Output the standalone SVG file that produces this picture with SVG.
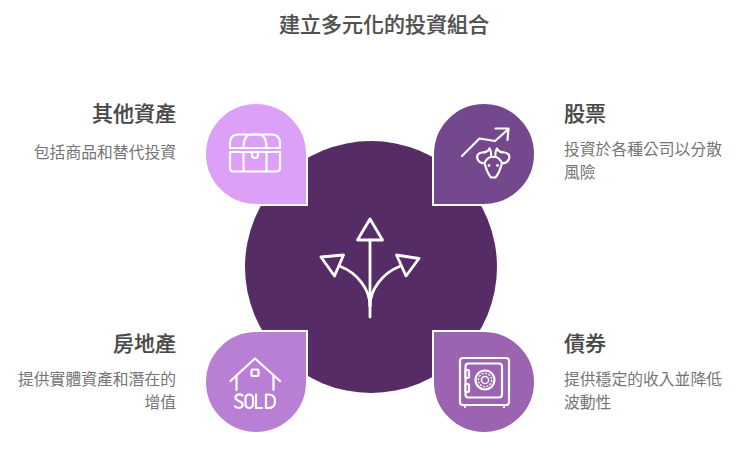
<svg xmlns="http://www.w3.org/2000/svg" width="740" height="452" viewBox="0 0 740 452">
<style>
text{font-family:"Noto Sans CJK TC","Noto Sans",sans-serif}
.t{font-size:21px;font-weight:500;fill:#505050;stroke:#505050;stroke-width:.2}
.h{font-size:21px;font-weight:500;fill:#484848;stroke:#484848;stroke-width:.2}
.d{font-size:15.8px;fill:#757575}
.e{text-anchor:end}
.drop{stroke:#fff;stroke-width:2}
.i{fill:none;stroke:#fff;stroke-width:2.2;stroke-linecap:round;stroke-linejoin:round}
.c{fill:#fff}
</style>
<rect width="740" height="452" fill="#fff"/>
<text class="t" x="279" y="32">建立多元化的投資組合</text>
<g id="center">
<circle cx="371" cy="267" r="126" fill="#552c66"/>
<g class="i" style="stroke-width:2.8">
<path d="M370 219L382.500 240H357.500Z"/>
<path d="M321 257L343.500 255L334.500 276Z"/>
<path d="M396.500 255L419 258.500L406 276Z"/>
<path d="M370 240V317"/>
<path d="M340.500 266.500C357 273 370 289 370 306"/>
<path d="M399.500 266.500C383 273 370 289 370 306"/>
</g>
</g>
<g id="node-other">
<path class="drop" d="M307 205H256A51 51 0 1 1 307 154Z" fill="#dda0f8"/>
<g class="i">
<path d="M230 148V142C230 137 234 134.500 238 134.500H272C276 134.500 280 137 280 142V148Z"/>
<path d="M230 152H280V168C280 170 278.500 171.500 276.500 171.500H233.500C231.500 171.500 230 170 230 168Z"/>
<path d="M243.500 148C243.500 139 246 134.500 252 134.500H258C264 134.500 266.500 139 266.500 148"/>
<path d="M243.500 152V171.500M266.500 152V171.500"/>
<path d="M252 152V155C252 157 253.500 158 255 158C256.500 158 258 157 258 155V152"/>
</g>
<text class="h e" x="176" y="121">其他資產</text>
<text class="d e" x="176" y="158">包括商品和替代投資</text>
</g>
<g id="node-stock">
<path class="drop" d="M433 205V154A51 51 0 1 1 484 205Z" fill="#74488d"/>
<g class="i">
<path d="M462 156L479.500 138.500L495 141L508 129.500"/>
<path d="M495.500 128.500H508.500L507.500 140"/>
<path d="M489.500 148.500C491 151 491.500 154 491 157M489.500 148.500C488 152 485 152.500 482 152.500C478 152.500 476.500 156 477.500 159C479 162 482 163.500 484.500 163C486 169 488 174 491 177.500H495.500C498.500 174 500.500 169 502 163C504.500 163.500 507.500 162 509 159C510 156 508.500 152.500 504.500 152.500C501.500 152.500 498.500 152 497 148.500C495.500 151 495 154 495.500 157"/>
<path d="M484.500 163C486 160 488.500 157.500 491 157H495.500C498 157.500 500.500 160 502 163"/>
</g>
<circle class="c" cx="489" cy="165.500" r="1.400"/>
<circle class="c" cx="497.500" cy="165.500" r="1.400"/>
<text class="h" x="564" y="121">股票</text>
<text class="d" x="564" y="155">投資於各種公司以分散</text>
<text class="d" x="564" y="178">風險</text>
</g>
<g id="node-real-estate">
<path class="drop" d="M307 331V382A51 51 0 1 1 256 331Z" fill="#b97fd5"/>
<g class="i">
<path d="M230.500 381L255 358.500L280 381"/>
<path d="M236.500 376V390M273.500 376V390"/>
<rect x="251.500" y="369.500" width="7" height="6.500" rx="1"/>
<path d="M242.500 395.500C240 393.800 235.500 394 235.500 397.800C235.500 401.500 242.700 400.500 242.700 404.500C242.700 408.500 237.500 408.500 235 406.500"/>
<rect x="245.500" y="394.500" width="7.500" height="13.500" rx="3.700"/>
<path d="M256 394.500V408H262"/>
<path d="M266 394.500V408H268.500C273 408 275 405.500 275 401.200C275 397 273 394.500 268.500 394.500Z"/>
</g>
<text class="h e" x="176" y="351">房地產</text>
<text class="d e" x="176" y="385">提供實體資產和潛在的</text>
<text class="d e" x="176" y="408">增值</text>
</g>
<g id="node-bond">
<path class="drop" d="M433 331H484A51 51 0 1 1 433 382Z" fill="#9b63b0"/>
<g class="i">
<rect x="460" y="358" width="49" height="47" rx="3"/>
<rect x="465.500" y="363.500" width="36.500" height="34" rx="3"/>
<circle cx="485" cy="380" r="9.500"/>
<circle cx="485" cy="380" r="6.700" stroke-width="1.500" stroke-dasharray="2 1.500" stroke-linecap="butt"/>
<circle cx="485" cy="380" r="3.600" stroke-width="1.500"/>
<rect x="465.500" y="370" width="3.500" height="8" rx="1" fill="#9b63b0"/>
<rect x="465.500" y="384" width="3.500" height="8" rx="1" fill="#9b63b0"/>
<path d="M465 405.500V407M504 405.500V407"/>
</g>
<text class="h" x="564" y="351">債券</text>
<text class="d" x="564" y="385">提供穩定的收入並降低</text>
<text class="d" x="564" y="408">波動性</text>
</g>
<g id="connectors"></g>
</svg>
